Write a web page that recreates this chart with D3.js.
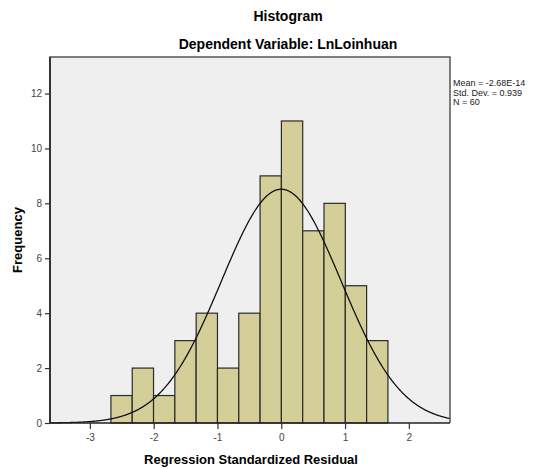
<!DOCTYPE html>
<html><head><meta charset="utf-8">
<script src="https://cdn.jsdelivr.net/npm/d3@7"></script>
<style>body{margin:0;background:#fff;}svg{display:block;font-family:"Liberation Sans",Arial,sans-serif;}</style>
</head><body>
<svg id="c" width="539" height="468"></svg>
<script>
const binEdgesStart = -2.67;
const binWidth = 0.334;
const counts = [1, 2, 1, 3, 4, 2, 4, 9, 11, 7, 8, 5, 3];
const xTicks = [-3, -2, -1, 0, 1, 2];
const yTicks = [0, 2, 4, 6, 8, 10, 12];
const statLines = ["Mean = -2.68E-14", "Std. Dev. = 0.939", "N = 60"];
const meanVal = 0, sdVal = 0.939, nVal = 60;

const svg = d3.select("#c");
const L = 50, R = 450, T = 57, B = 423;
const x = d3.scaleLinear().domain([-3.625, 2.645]).range([L, R]);
const y = d3.scaleLinear().domain([0, 13.33]).range([B, T]);

svg.append("rect").attr("x", L).attr("y", T).attr("width", R - L).attr("height", B - T)
  .attr("fill", "#efefef");

const bins = counts.map((c, i) => ({x0: binEdgesStart + i * binWidth, x1: binEdgesStart + (i + 1) * binWidth, c}));
svg.append("g").selectAll("rect").data(bins).join("rect")
  .attr("x", d => x(d.x0)).attr("y", d => y(d.c))
  .attr("width", d => x(d.x1) - x(d.x0)).attr("height", d => y(0) - y(d.c))
  .attr("fill", "#d4cf98").attr("stroke", "#2a2a2a").attr("stroke-width", 1.2);

// normal curve
const scale = nVal * binWidth;
const pts = d3.range(-3.625, 2.646, 0.01).map(v => [v, scale * Math.exp(-0.5 * ((v - meanVal) / sdVal) ** 2) / (sdVal * Math.sqrt(2 * Math.PI))]);
svg.append("path").datum(pts)
  .attr("d", d3.line().x(d => x(d[0])).y(d => y(d[1])).curve(d3.curveBasis))
  .attr("fill", "none").attr("stroke", "#111").attr("stroke-width", 1.3);

// frame
svg.append("path").attr("d", `M${L},${B}V${T}H${R}V${B}`).attr("fill", "none").attr("stroke", "#555").attr("stroke-width", 1.5);

// axes
const fmt = d => String(d);
const xa = svg.append("g").attr("transform", `translate(0,${B})`)
  .call(d3.axisBottom(x).tickValues(xTicks).tickSize(6).tickSizeOuter(0).tickFormat(fmt));
const ya = svg.append("g").attr("transform", `translate(${L},0)`)
  .call(d3.axisLeft(y).tickValues(yTicks).tickSize(5).tickSizeOuter(0).tickFormat(fmt));
[xa, ya].forEach(a => {
  a.select(".domain").attr("stroke", "#222").attr("stroke-width", 1.6);
  a.selectAll(".tick line").attr("stroke", "#333").attr("stroke-width", 1.2);
  a.selectAll(".tick text").attr("fill", "#444").attr("font-size", 10).attr("font-family", "Liberation Sans, Arial, sans-serif");
});
xa.select(".domain").attr("d", `M${L},0H${R}`);
ya.select(".domain").attr("d", `M0,${B}V${T}`);
xa.selectAll(".tick text").attr("dy", "0.9em");

// titles
svg.append("text").attr("x", 288).attr("y", 21).attr("text-anchor", "middle")
  .attr("font-weight", "bold").attr("font-size", 14).text("Histogram");
svg.append("text").attr("x", 288).attr("y", 49).attr("text-anchor", "middle")
  .attr("font-weight", "bold").attr("font-size", 14).text("Dependent Variable: LnLoinhuan");
svg.append("text").attr("x", 251).attr("y", 464).attr("text-anchor", "middle")
  .attr("font-weight", "bold").attr("font-size", 13).text("Regression Standardized Residual");
svg.append("text").attr("transform", "translate(22,240) rotate(-90)").attr("text-anchor", "middle")
  .attr("font-weight", "bold").attr("font-size", 13).text("Frequency");

svg.append("g").selectAll("text").data(statLines).join("text")
  .attr("x", 453).attr("y", (d, i) => 86 + i * 9.5).attr("font-size", 9).attr("fill", "#222").text(d => d);
</script>
</body></html>
